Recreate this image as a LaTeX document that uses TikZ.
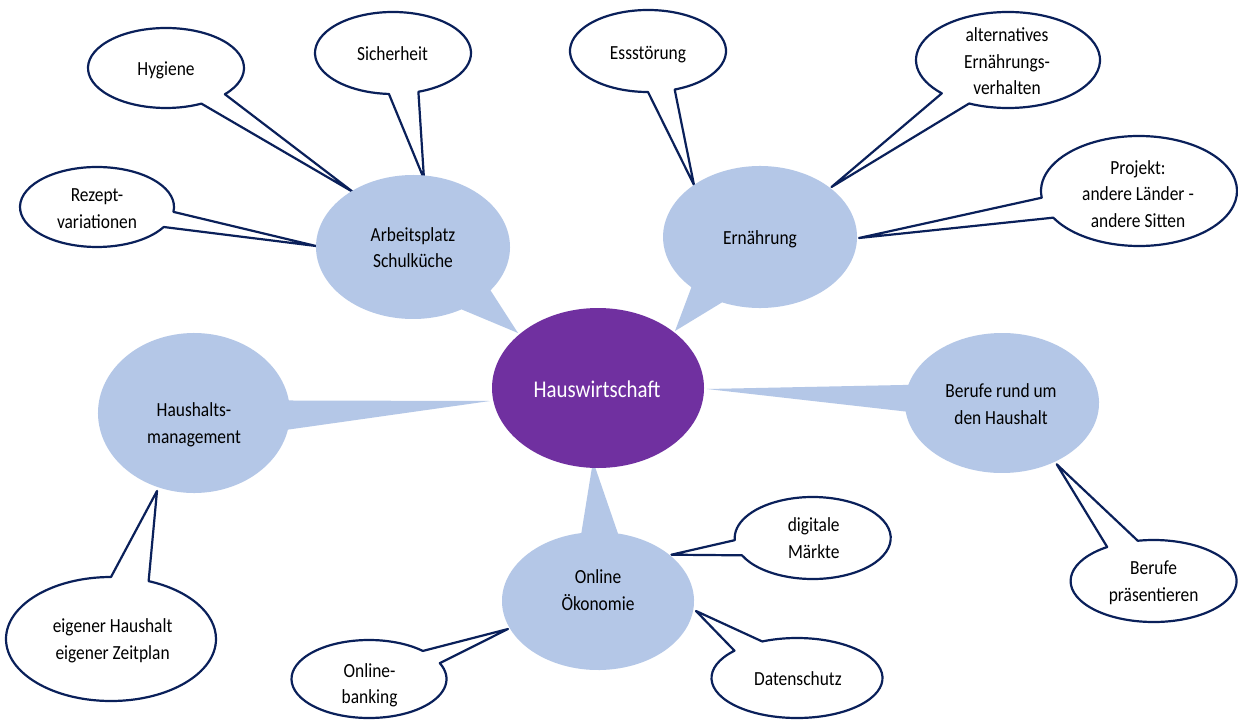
\documentclass[tikz,border=0pt]{standalone}
\usepackage{fontspec}
\setmainfont{Carlito}[FakeStretch=0.87]
\definecolor{bub}{RGB}{180,199,231}
\definecolor{purp}{RGB}{112,48,160}
\definecolor{navy}{RGB}{10,32,90}
% style, cx, cy(pixel, downwards), rx, ry, t1, t2, tip coordinate
\newcommand\bubblepath[8]{%
  \path[#1] ({#2+#4*cos(#6)},{-(#3)+#5*sin(#6)}) -- (#8) -- ({#2+#4*cos(#7)},{-(#3)+#5*sin(#7)})
    arc[start angle=#7, end angle=#6+360, x radius=#4pt, y radius=#5pt] -- cycle;}
\tikzset{
  wbub/.style={fill=white, draw=navy, line width=2.2pt, line join=round},
  bbub/.style={fill=bub},
  % node centre = visual centre of the LAST line
  txt/.style={font=\fontsize{20}{26.5}\selectfont, align=center, inner sep=0pt, text height=12.4pt, text depth=0pt, text=black},
  bigtxt/.style={font=\fontsize{24}{30}\selectfont, align=center, inner sep=0pt, text height=14.9pt, text depth=0pt, text=white}
}
\begin{document}
\begin{tikzpicture}[x=1pt,y=1pt]
\useasboundingbox (0,0) rectangle (1238,-722);
\fill[white] (0,0) rectangle (1238,-722);
% tips
\coordinate (hyg-tip) at (353,-192);
\coordinate (sich-tip) at (424,-179);
\coordinate (rez-tip) at (316,-246);
\coordinate (ess-tip) at (694,-185);
\coordinate (alt-tip) at (831.5,-187);
\coordinate (proj-tip) at (859,-238);
\coordinate (eig-tip) at (157,-491);
\coordinate (bank-tip) at (508,-629);
\coordinate (dig-tip) at (671.4,-554.7);
\coordinate (dat-tip) at (696,-611);
\coordinate (bpr-tip) at (1056.7,-464.3);
\coordinate (arb-tip) at (518,-333);
\coordinate (ern-tip) at (675,-331);
\coordinate (hh-tip) at (490,-401);
\coordinate (onl-tip) at (593,-461);
\coordinate (ber-tip) at (707,-389);
% white bubbles
\bubblepath{wbub}{166}{68}{78}{40}{-63}{-41}{hyg-tip}
\bubblepath{wbub}{393}{53}{78}{41}{-93}{-71}{sich-tip}
\bubblepath{wbub}{97}{207}{77}{40}{-30}{-7}{rez-tip}
\bubblepath{wbub}{648}{51}{78}{41}{-90}{-70}{ess-tip}
\bubblepath{wbub}{1008}{60}{92}{48}{-136}{-115}{alt-tip}
\bubblepath{wbub}{1139}{191}{98}{55}{-173}{-151}{proj-tip}
\bubblepath{wbub}{111}{639}{105}{62}{69}{90}{eig-tip}
\bubblepath{wbub}{369}{679}{77.5}{39}{24}{46}{bank-tip}
\bubblepath{wbub}{812.7}{538}{78}{41}{-177}{-155}{dig-tip}
\bubblepath{wbub}{797}{678}{85.5}{40}{114}{137}{dat-tip}
\bubblepath{wbub}{1153.6}{581}{83}{41}{101}{124}{bpr-tip}
% blue bubbles
\bubblepath{bbub}{413}{247}{97}{72}{-60}{-37}{arb-tip}
\bubblepath{bbub}{760}{237}{97}{71}{-135}{-113}{ern-tip}
\bubblepath{bbub}{194}{413}{96}{80}{-12}{9}{hh-tip}
\bubblepath{bbub}{598}{601}{96}{69}{78}{100}{onl-tip}
\bubblepath{bbub}{1002}{403}{97}{70}{165}{187}{ber-tip}
% centre
\fill[purp] (598,-388) ellipse[x radius=106pt, y radius=80pt];
% texts
\node[bigtxt] (haus) at (597,-390) {Hauswirtschaft};
\node[txt] (hyg) at (166,-69.5) {Hygiene};
\node[txt] (sich) at (392.5,-54) {Sicherheit};
\node[txt] (rez) at (97,-222) {Rezept-\\variationen};
\node[txt] (arb) at (413,-261.6) {Arbeitsplatz\\Schulküche};
\node[txt] (ess) at (648,-53) {Essstörung};
\node[txt] (alt) at (1007,-88.7) {alternatives\\Ernährungs-\\verhalten};
\node[txt] (proj) at (1138,-221) {Projekt:\\andere Länder -\\andere Sitten};
\node[txt] (ern) at (760,-238.4) {Ernährung};
\node[txt] (hh) at (194,-436.8) {Haushalts-\\management};
\node[txt] (ber) at (1001,-418) {Berufe rund um\\den Haushalt};
\node[txt] (dig) at (813.7,-552) {digitale\\Märkte};
\node[txt] (onl) at (598,-604) {Online\\Ökonomie};
\node[txt] (eig) at (112.6,-653) {eigener Haushalt\\eigener Zeitplan};
\node[txt] (bank) at (369.6,-697.7) {Online-\\banking};
\node[txt] (dat) at (797.9,-679.5) {Datenschutz};
\node[txt] (bpr) at (1153.6,-595) {Berufe\\präsentieren};
\end{tikzpicture}
\end{document}
